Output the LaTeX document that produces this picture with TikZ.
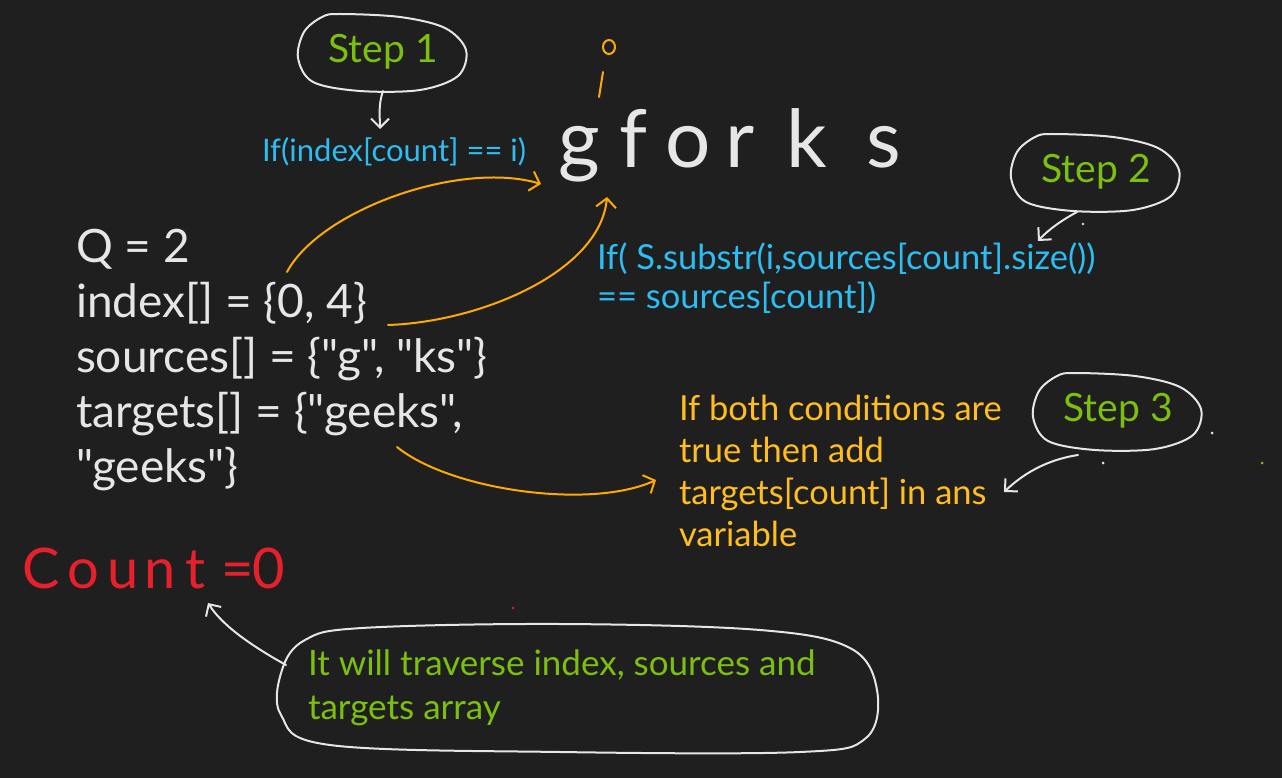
\documentclass[tikz,border=0pt]{standalone}
\usepackage{fontspec}
\setmainfont{Lato}[Ligatures=TeXOff]
\usetikzlibrary{arrows.meta,shapes.geometric}
\definecolor{bg}{HTML}{1F1F1F}
\definecolor{wtext}{HTML}{E6E6E6}
\definecolor{cyantext}{HTML}{2CBDF2}
\definecolor{greentext}{HTML}{7CC00E}
\definecolor{orangetext}{HTML}{FFBE1E}
\definecolor{orangeline}{HTML}{FFAA00}
\definecolor{redtext}{HTML}{E8202C}
\tikzset{
  txt/.style={inner sep=0pt, outer sep=0pt, align=left},
  bubble/.style={ellipse, minimum width=170pt, minimum height=77pt, inner sep=0pt},
  bubbleline/.style={draw=wtext, line width=2pt, line cap=round},
  steplabel/.style={text=greentext, font=\fontsize{39}{42}\selectfont},
  warrow/.style={draw=wtext, line width=2pt, line cap=round, -{Straight Barb[length=9pt,width=18pt,line width=2pt]}},
  oarrow/.style={draw=orangeline, line width=2pt, line cap=round, -{Straight Barb[length=9pt,width=20pt,line width=2pt]}},
  dot/.style={fill=#1, draw=none}
}
\begin{document}
\begin{tikzpicture}[x=1pt,y=-1pt]
\fill[bg] (0,0) rectangle (1282,778);
\useasboundingbox (0,0) rectangle (1282,778);

% Step bubbles (hand-drawn loops)
\foreach \dx/\dy in {0/0, 713/120, 735/359} {
  \draw[bubbleline, shift={(\dx,\dy)}] plot[smooth cycle, tension=0.55] coordinates {
    (340,14) (400,17) (445,28) (466,50) (458,76) (420,90) (360,91)
    (313,82) (298,58) (304,32) (322,17)};
}
\node[bubble] (step1) at (383,52) {};
\node[steplabel] at (step1.center) {Step 1};
\node[bubble] (step2) at (1096,172) {};
\node[steplabel] at (step2.center) {Step 2};
\node[bubble] (step3) at (1118,411) {};
\node[steplabel] at (step3.center) {Step 3};

% main word
\node[txt, anchor=base west, text=wtext, font=\fontsize{80}{90}\selectfont] (word) at (558,168)
  {g\kern20pt f\kern18pt o\kern14pt r\kern32pt k\kern40pt s};
\draw[orangeline, line width=2pt] (609,47) ellipse (6pt and 7pt);
\draw[orangeline, line width=2pt, line cap=round] (603,72) -- (599,97);

% conditions
\node[txt, anchor=base west, text=cyantext, font=\fontsize{31}{34}\selectfont] (cond1) at (262,162)
  {If(index[count] == i)};
\node[txt, anchor=north west, text=cyantext, font=\fontsize{34.5}{39}\selectfont] (cond2) at (597,243)
  {If( S.substr(i,sources[count].size())\\== sources[count])};

% input block
\node[txt, anchor=north west, text=wtext, font=\fontsize{46}{55}\selectfont] (input) at (76,229)
  {Q = 2\\index[] = \{0, 4\}\\sources[] = \{"g", "ks"\}\\targets[] = \{"geeks",\\"geeks"\}};

% step 3 text
\node[txt, anchor=north west, text=orangetext, font=\fontsize{34.5}{42}\selectfont] (cond3) at (679,395)
  {If both conditions are\\true then add\\targets[count] in ans\\variable};

% count
\node[txt, anchor=base west, text=redtext, font=\fontsize{56}{60}\selectfont] (count) at (22,588)
  {C\kern8pt o\kern8pt u\kern6pt n\kern10pt t\kern16pt =\kern-2pt 0};

% bottom bubble
\draw[bubbleline] plot[smooth cycle, tension=0.6] coordinates {
  (362,628) (560,624) (760,630) (850,648) (877,690) (866,738) (800,752)
  (560,752) (330,745) (281,715) (282,670) (305,640)};
\node[txt, anchor=north west, text=greentext, font=\fontsize{35}{44}\selectfont] (trav) at (308,650)
  {It will traverse index, sources and\\targets array};

% anchor coordinates
\coordinate (a1) at (287,272);
\coordinate (t1) at (541,184);
\coordinate (a2) at (388,325);
\coordinate (t2) at (607,197);
\coordinate (a3) at (397,447);
\coordinate (t3) at (656,480);
\coordinate (s1) at (383,91);
\coordinate (e1) at (380,129);
\coordinate (s2) at (1077,212);
\coordinate (e2) at (1038,241);
\coordinate (s3) at (1078,455);
\coordinate (e3) at (1004,492);
\coordinate (s4) at (286,665);
\coordinate (e4) at (208,603);

% orange connectors
\draw[oarrow] (a1) .. controls (320,210) and (460,160) .. (t1);
\draw[oarrow] (a2) .. controls (480,322) and (600,272) .. (t2);
\draw[oarrow] (a3) .. controls (450,490) and (590,510) .. (t3);

% white connectors
\draw[warrow] (s1) .. controls (378,105) and (380,118) .. (e1);
\draw[warrow] (s2) .. controls (1062,220) and (1048,230) .. (e2);
\draw[warrow] (s3) .. controls (1045,460) and (1022,475) .. (e3);
\draw[warrow] (s4) .. controls (250,645) and (222,625) .. (e4);

% stray dots
\fill[dot=wtext] (1212,433) circle (1.5pt);
\fill[dot=wtext] (1103,463) circle (1.5pt);
\fill[dot=wtext] (1083,224) circle (1.3pt);
\fill[dot=greentext] (1262,463) circle (1.5pt);
\fill[dot=redtext] (513,608) circle (1.3pt);
\end{tikzpicture}
\end{document}
